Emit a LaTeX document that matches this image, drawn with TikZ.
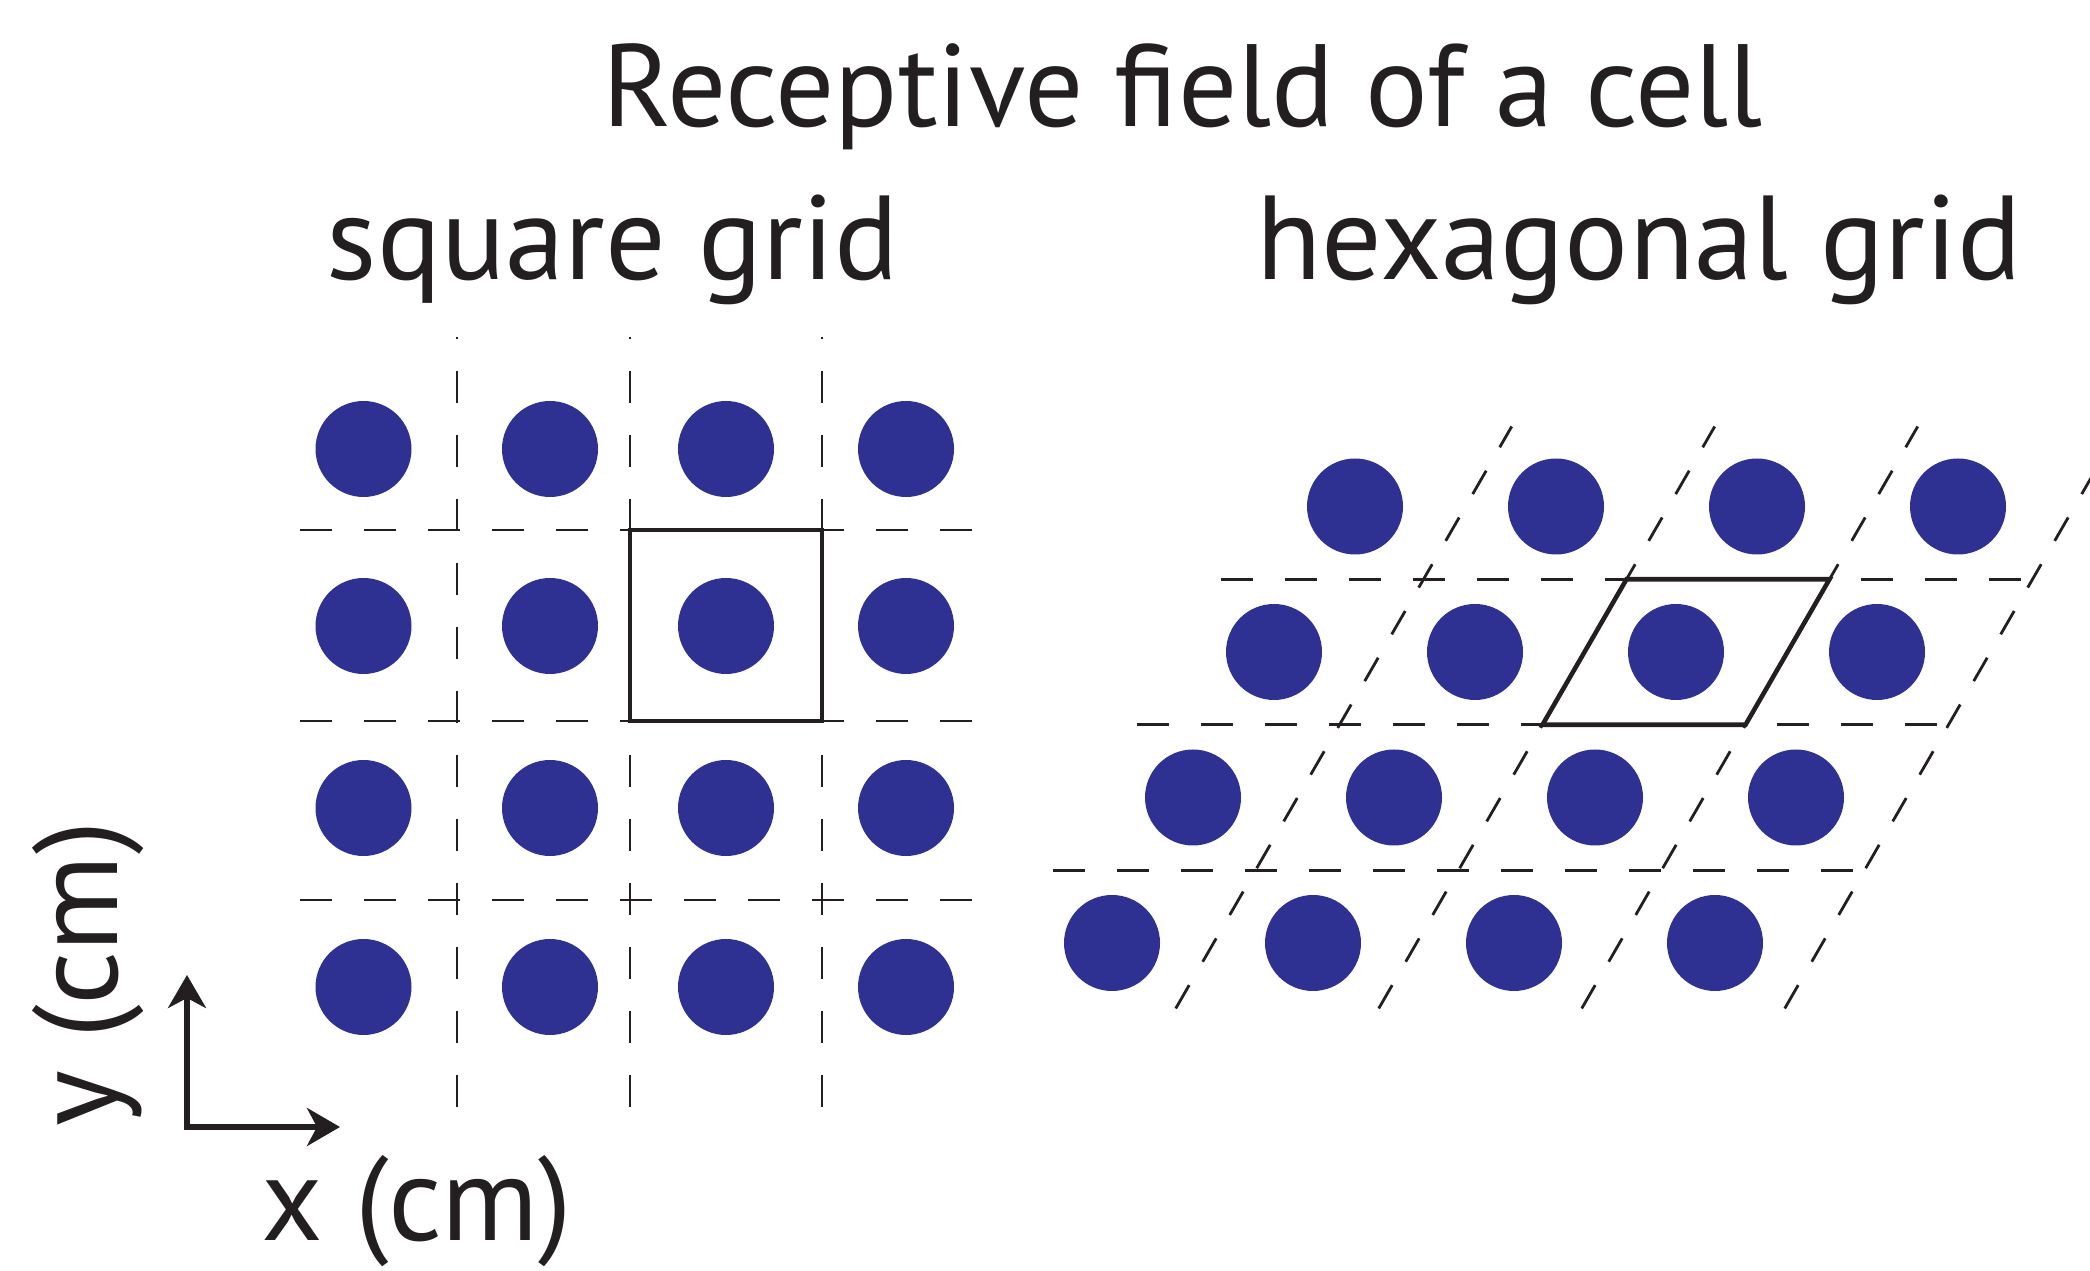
\documentclass[tikz,border=0pt]{standalone}
\usepackage{fontspec}
\setmainfont{PT Sans}
\usetikzlibrary{arrows.meta,calc,positioning}
\definecolor{fg}{RGB}{35,31,32}
\definecolor{cellblue}{RGB}{46,49,146}
\tikzset{
  every picture/.style={fg, line join=miter,
    >={Stealth[length=3.3mm,width=3.8mm,inset=1mm]}},
  every node/.style={font=\fontsize{34}{40}\selectfont, inner sep=0pt},
  % Linientypen
  gridline/.style={line width=0.8pt, dash pattern=on 3.2mm off 3.2mm},
  slantline/.style={line width=0.8pt, dash pattern=on 2.7mm off 2.7mm},
  cellbox/.style={line width=1.3pt},
  axis/.style={line width=1.5pt, <->},
  % Zellen
  cell/.style={fill=cellblue},
}

\begin{document}
\begin{tikzpicture}
  \useasboundingbox (0,0) rectangle (20.9,12.7);
  % Titel
  \node[anchor=base, font=\fontsize{33.3}{40}\selectfont] (title) at (11.83,11.43) {Receptive field of a cell};
  \node[anchor=base] (sqtitle) at (6.13,9.90) {square grid};
  \node[anchor=base] (hextitle) at (16.39,9.90) {hexagonal grid};
  % Quadratisches Gitter
  \foreach \x in {3.635,5.50,7.26,9.06}
    \foreach \y in {2.83,4.62,6.44,8.21}
      \fill[cell] (\x,\y) circle (0.48);
  \foreach \x in {4.57,6.30,8.22}
    \draw[gridline] (\x,1.63) -- (\x,9.33);
  \foreach \y in {3.70,5.49,7.40}
    \draw[gridline] (3.0,\y) -- (10.0,\y);
  \draw[cellbox] (6.30,5.49) rectangle (8.22,7.40);
  % Hexagonales Gitter
  \coordinate (h) at (11.12,3.27);
  \foreach \i in {0,...,3}
    \foreach \j in {0,...,3}
      \fill[cell] ($(h)+\i*(2.01,0)+\j*(0.81,1.455)$) circle (0.48);
  \foreach \t in {0.5,1.5,2.5}
    \draw[gridline] ($(h)+(-1.015,0)+\t*(0.84,1.455)$) -- ++(8.0,0);
  \foreach \i in {0,...,3}
    \draw[slantline] ($(h)+(1.015+2.03*\i,0)+(-0.378,-0.655)$) -- ++(3.36,5.82);
  \coordinate (rf) at ($(h)+2*(2.03,0)+2*(0.84,1.455)$);
  \draw[cellbox] ($(rf)+(-1.435,-0.7275)$) -- ++(2.03,0) -- ++(0.84,1.455)
    -- ++(-2.03,0) -- cycle;
  % Achsen
  \coordinate (o) at (1.87,1.43);
  \coordinate (xtip) at (3.40,1.43);
  \coordinate (ytip) at (1.87,2.95);
  \draw[axis] (ytip) -- (o) -- (xtip);
  \node[anchor=base] (xlab) at (4.17,0.30) {x (cm)};
  \node[anchor=base, rotate=90] (ylab) at (1.17,2.96) {y (cm)};
\end{tikzpicture}
\end{document}
